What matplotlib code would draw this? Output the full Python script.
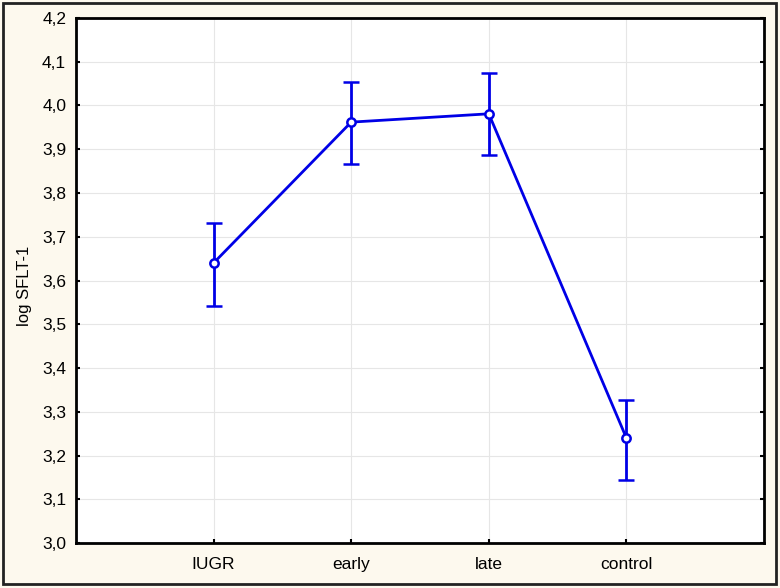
import numpy as np
import matplotlib.pyplot as plt
from matplotlib.patches import Rectangle
from matplotlib.ticker import FuncFormatter

plt.rcParams['font.family'] = ['Liberation Sans', 'DejaVu Sans']

groups = ['IUGR', 'early', 'late', 'control']
means = [3.640, 3.962, 3.981, 3.240]
upper = [3.731, 4.053, 4.074, 3.327]
lower = [3.542, 3.866, 3.887, 3.144]

x = np.arange(1, len(groups) + 1)
m = np.array(means)
err = [m - np.array(lower), np.array(upper) - m]

fig = plt.figure(figsize=(7.8, 5.88), dpi=100, facecolor='#fdf9ee')
ax = fig.add_axes([0.0974, 0.0765, 0.8821, 0.8929])
ax.set_facecolor('white')

ax.errorbar(x, m, yerr=err, color='#0000e6', lw=2, marker='o', ms=6,
            mfc='white', mew=1.8, capsize=6, capthick=2, elinewidth=2, zorder=3)

ax.set_xlim(0, 5)
ax.set_ylim(3.0, 4.2)
ax.set_xticks(x)
ax.set_xticklabels(groups)
ax.set_yticks(np.arange(3.0, 4.21, 0.1))
ax.yaxis.set_major_formatter(FuncFormatter(lambda v, p: f'{v:.1f}'.replace('.', ',')))
ax.grid(True, color='#e6e6e6', lw=0.8)
ax.set_axisbelow(True)
ax.tick_params(direction='in', length=3, width=1.5, labelsize=12.5, pad=7,
               right=True, top=False)
ax.tick_params(axis='x', pad=10)
for s in ax.spines.values():
    s.set_linewidth(2)
ax.set_ylabel('log SFLT-1', fontsize=12)
ax.yaxis.set_label_coords(-0.064, 0.49)

fig.patches.append(Rectangle((0.004, 0.007), 0.991, 0.988, transform=fig.transFigure,
                             fill=False, lw=2, ec='#222222'))

fig.savefig('out.png', dpi=100, facecolor=fig.get_facecolor())
